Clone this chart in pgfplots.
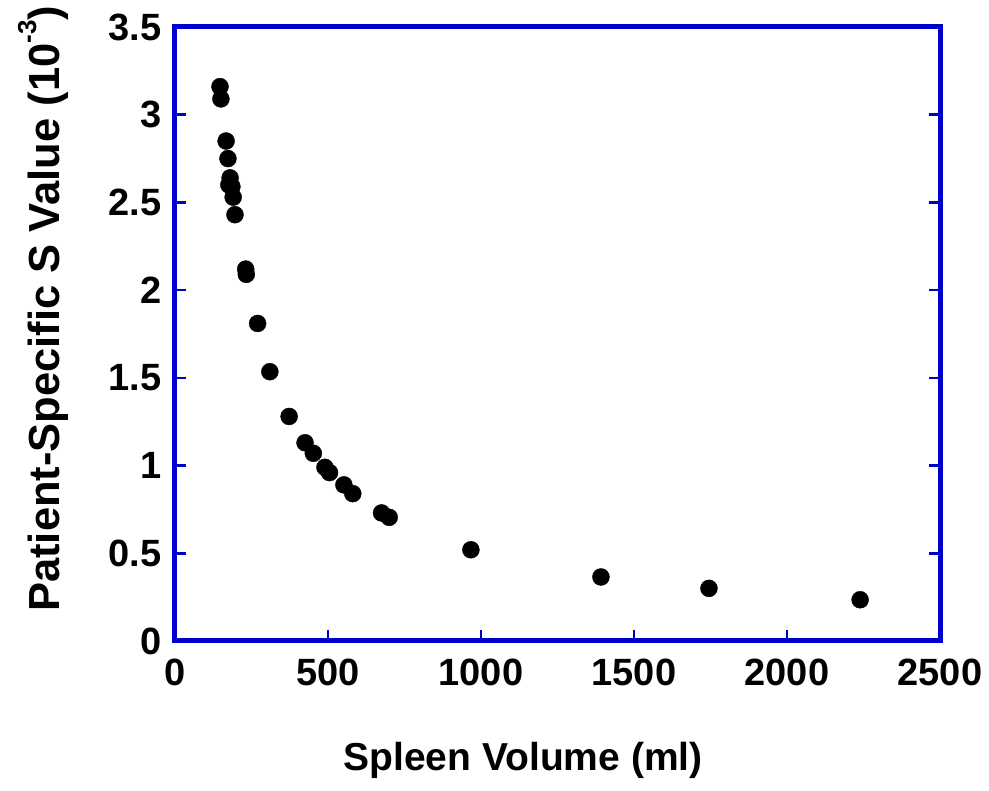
\documentclass[border=0pt]{standalone}
\usepackage{pgfplots}
\pgfplotsset{compat=1.18}
\usepackage{fontspec}
\setmainfont{Liberation Sans}
\definecolor{axisblue}{RGB}{0,0,204}

\begin{document}
\begin{tikzpicture}
\path[use as bounding box] (-175pt,-150pt) rectangle (814pt,641pt);
\begin{axis}[
    at={(0pt,0pt)}, anchor=south west,
    scale only axis,
    width=765pt, height=614pt,
    xmin=0, xmax=2500,
    ymin=0, ymax=3.5,
    xtick={0,500,...,2500},
    ytick={0,0.5,...,3.5},
    xtick pos=bottom,
    ytick pos=both,
    tick align=inside,
    major tick length=11pt,
    axis line style={line width=5pt, color=axisblue},
    every tick/.style={line width=2.5pt, color=axisblue},
    /pgf/number format/assume math mode=true,
    /pgf/number format/1000 sep={},
    tick label style={font=\fontsize{38}{42}\selectfont\bfseries},
    xticklabel style={yshift=-14pt},
    yticklabel style={xshift=-10pt},
    xlabel={Spleen Volume (ml)},
    ylabel={Patient-Specific S Value (10\raisebox{0.55em}{\fontsize{26}{28}\selectfont -3})},
    xlabel style={font=\fontsize{39}{43}\selectfont\bfseries, at={(axis description cs:0.455,-0.194)}, anchor=center},
    ylabel style={font=\fontsize{43.5}{47}\selectfont\bfseries, at={(axis description cs:-0.172,0.541)}, anchor=center},
]
\addplot[only marks, mark=*, mark size=8.5pt, color=black] coordinates {
    (147,3.16) (150,3.09) (167,2.85) (173,2.75)
    (180,2.64) (176,2.60) (186,2.59) (190,2.53) (196,2.43)
    (231,2.12) (233,2.09) (270,1.81) (310,1.535) (373,1.28)
    (425,1.13) (452,1.07) (490,0.99) (505,0.96)
    (552,0.89) (581,0.84) (675,0.73) (700,0.705)
    (967,0.52) (1392,0.365) (1745,0.30) (2239,0.235)
};
\end{axis}
\end{tikzpicture}
\end{document}
